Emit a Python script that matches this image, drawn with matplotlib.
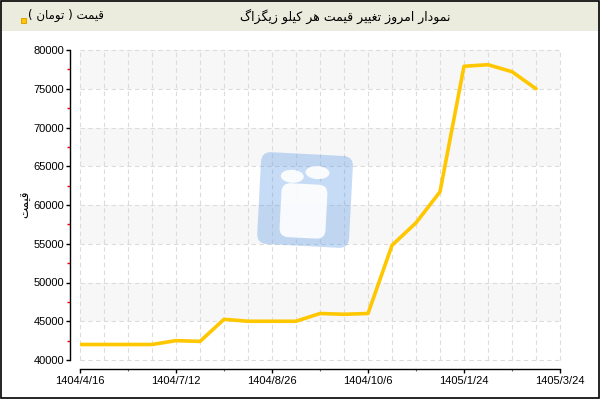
import numpy as np
import matplotlib.pyplot as plt
import matplotlib.transforms as mtransforms
from matplotlib.patches import Rectangle, FancyBboxPatch, Ellipse
from matplotlib.ticker import MultipleLocator, FuncFormatter

plt.rcParams['font.family'] = ['Liberation Sans', 'DejaVu Sans']

# قیمت هر کیلو (تومان)
prices = [42000, 42000, 42000, 42000, 42500, 42400, 45250, 45000, 45000, 45000,
          46000, 45900, 46000, 54800, 57700, 61700, 77900, 78100, 77200, 75000]
days = np.arange(len(prices))
date_labels = ['1404/4/16', '1404/7/12', '1404/8/26', '1404/10/6', '1405/1/24', '1405/3/24']
date_ticks = np.arange(0, 21, 4)

title = 'نمودار امروز تغییر قیمت هر کیلو زیگزاگ'
legend_label = 'قیمت ( تومان )'
y_label = 'قیمت'

# matplotlib does not shape arabic script, so do it by hand
FORMS = {
    'ا': ('\uFE8D', '\uFE8E', None, None),
    'د': ('\uFEA9', '\uFEAA', None, None),
    'ر': ('\uFEAD', '\uFEAE', None, None),
    'ز': ('\uFEAF', '\uFEB0', None, None),
    'و': ('\uFEED', '\uFEEE', None, None),
    'ت': ('\uFE95', '\uFE96', '\uFE97', '\uFE98'),
    'غ': ('\uFECD', '\uFECE', '\uFECF', '\uFED0'),
    'ق': ('\uFED5', '\uFED6', '\uFED7', '\uFED8'),
    'ل': ('\uFEDD', '\uFEDE', '\uFEDF', '\uFEE0'),
    'م': ('\uFEE1', '\uFEE2', '\uFEE3', '\uFEE4'),
    'ن': ('\uFEE5', '\uFEE6', '\uFEE7', '\uFEE8'),
    'ه': ('\uFEE9', '\uFEEA', '\uFEEB', '\uFEEC'),
    'ی': ('\uFBFC', '\uFBFD', '\uFBFE', '\uFBFF'),
    'ک': ('\uFB8E', '\uFB8F', '\uFB90', '\uFB91'),
    'گ': ('\uFB92', '\uFB93', '\uFB94', '\uFB95'),
}


def fa(text):
    out = []
    for i, ch in enumerate(text):
        if ch not in FORMS:
            out.append(ch)
            continue
        prev = text[i - 1] if i > 0 else ''
        nxt = text[i + 1] if i + 1 < len(text) else ''
        joins_prev = prev in FORMS and FORMS[prev][2] is not None
        joins_next = nxt in FORMS and FORMS[ch][2] is not None
        iso, fin, ini, med = FORMS[ch]
        if joins_prev and joins_next:
            out.append(med)
        elif joins_prev:
            out.append(fin)
        elif joins_next:
            out.append(ini)
        else:
            out.append(iso)
    vis = ''.join(reversed(out))
    return vis.translate(str.maketrans('()', ')('))


fig = plt.figure(figsize=(6, 4), dpi=100)
ax = fig.add_axes([80 / 600, 40 / 400, 480 / 600, 310 / 400])
ax.set_xlim(0, 20)
ax.set_ylim(40000, 80000)

for lo in range(45000, 80000, 10000):
    ax.axhspan(lo, lo + 5000, color='#f7f7f7', lw=0, zorder=0)
ax.vlines(np.arange(0, 21), 40000, 80000, colors='#dcdcdc',
          linestyles=(0, (4, 3)), lw=0.8, zorder=1, clip_on=False)
ax.hlines(np.arange(40000, 80001, 5000), 0, 20, colors='#dcdcdc',
          linestyles=(0, (4, 3)), lw=0.8, zorder=1, clip_on=False)

ax.plot(days, prices, color='#FFC700', lw=2.6, solid_joinstyle='round',
        solid_capstyle='round', zorder=3)

ax.spines['top'].set_visible(False)
ax.spines['right'].set_visible(False)
ax.spines['left'].set_position(('outward', 7.2))
ax.spines['bottom'].set_position(('outward', 6.5))
ax.spines['left'].set_bounds(40000, 80000)
ax.spines['bottom'].set_bounds(0, 20)
for s in ('left', 'bottom'):
    ax.spines[s].set_linewidth(1.0)

ax.yaxis.set_major_locator(MultipleLocator(5000))
ax.yaxis.set_minor_locator(MultipleLocator(2500))
ax.yaxis.set_major_formatter(FuncFormatter(lambda v, p: f'{v:.0f}'))
ax.set_xticks(date_ticks, date_labels)
ax.xaxis.set_minor_locator(MultipleLocator(2))

ax.tick_params(axis='y', which='major', length=3, width=1, color='black', labelsize=8, pad=1)
ax.tick_params(axis='y', which='minor', length=2.5, width=1, color='red')
ax.tick_params(axis='x', which='major', length=3, width=1, color='black', labelsize=8, pad=2)
ax.tick_params(axis='x', which='minor', length=1.5, width=0.8, color='#666666')

# header, border, watermark in pixel coordinates
ov = fig.add_axes([0, 0, 1, 1], zorder=10)
ov.set_xlim(0, 600)
ov.set_ylim(400, 0)
ov.set_axis_off()

ov.add_patch(Rectangle((0, 0), 600, 31, fc='#ECECDE', ec='none'))
ov.add_patch(Rectangle((0.5, 0.5), 598.5, 397.5, fill=False, ec='black', lw=1.2))
ov.add_patch(Rectangle((20.5, 17.5), 5, 5, fc='#FFC700', ec='#E0A000', lw=0.7))
ov.text(28, 15.5, fa(legend_label), ha='left', va='center', fontsize=8.5, family='DejaVu Sans')
ov.text(345, 16, fa(title), ha='center', va='center', fontsize=9, family='DejaVu Sans')
ov.text(26, 204, fa(y_label), rotation=90, ha='center', va='center', fontsize=8.5,
        family='DejaVu Sans')

rot = mtransforms.Affine2D().rotate_deg_around(305, 201, 3) + ov.transData
ov.add_patch(FancyBboxPatch((259, 154), 92, 92, boxstyle='round,pad=0,rounding_size=10',
                            fc=(92 / 255, 152 / 255, 229 / 255), alpha=0.35, ec='none', transform=rot))
ov.add_patch(Ellipse((291, 177), 23, 13, fc='white', alpha=0.9, ec='none', transform=rot))
ov.add_patch(Ellipse((316, 172), 24, 13, fc='white', alpha=0.9, ec='none', transform=rot))
ov.add_patch(FancyBboxPatch((281, 184), 46, 54, boxstyle='round,pad=0,rounding_size=9',
                            fc='white', alpha=0.9, ec='none', transform=rot))

fig.savefig('out.png', dpi=100)
